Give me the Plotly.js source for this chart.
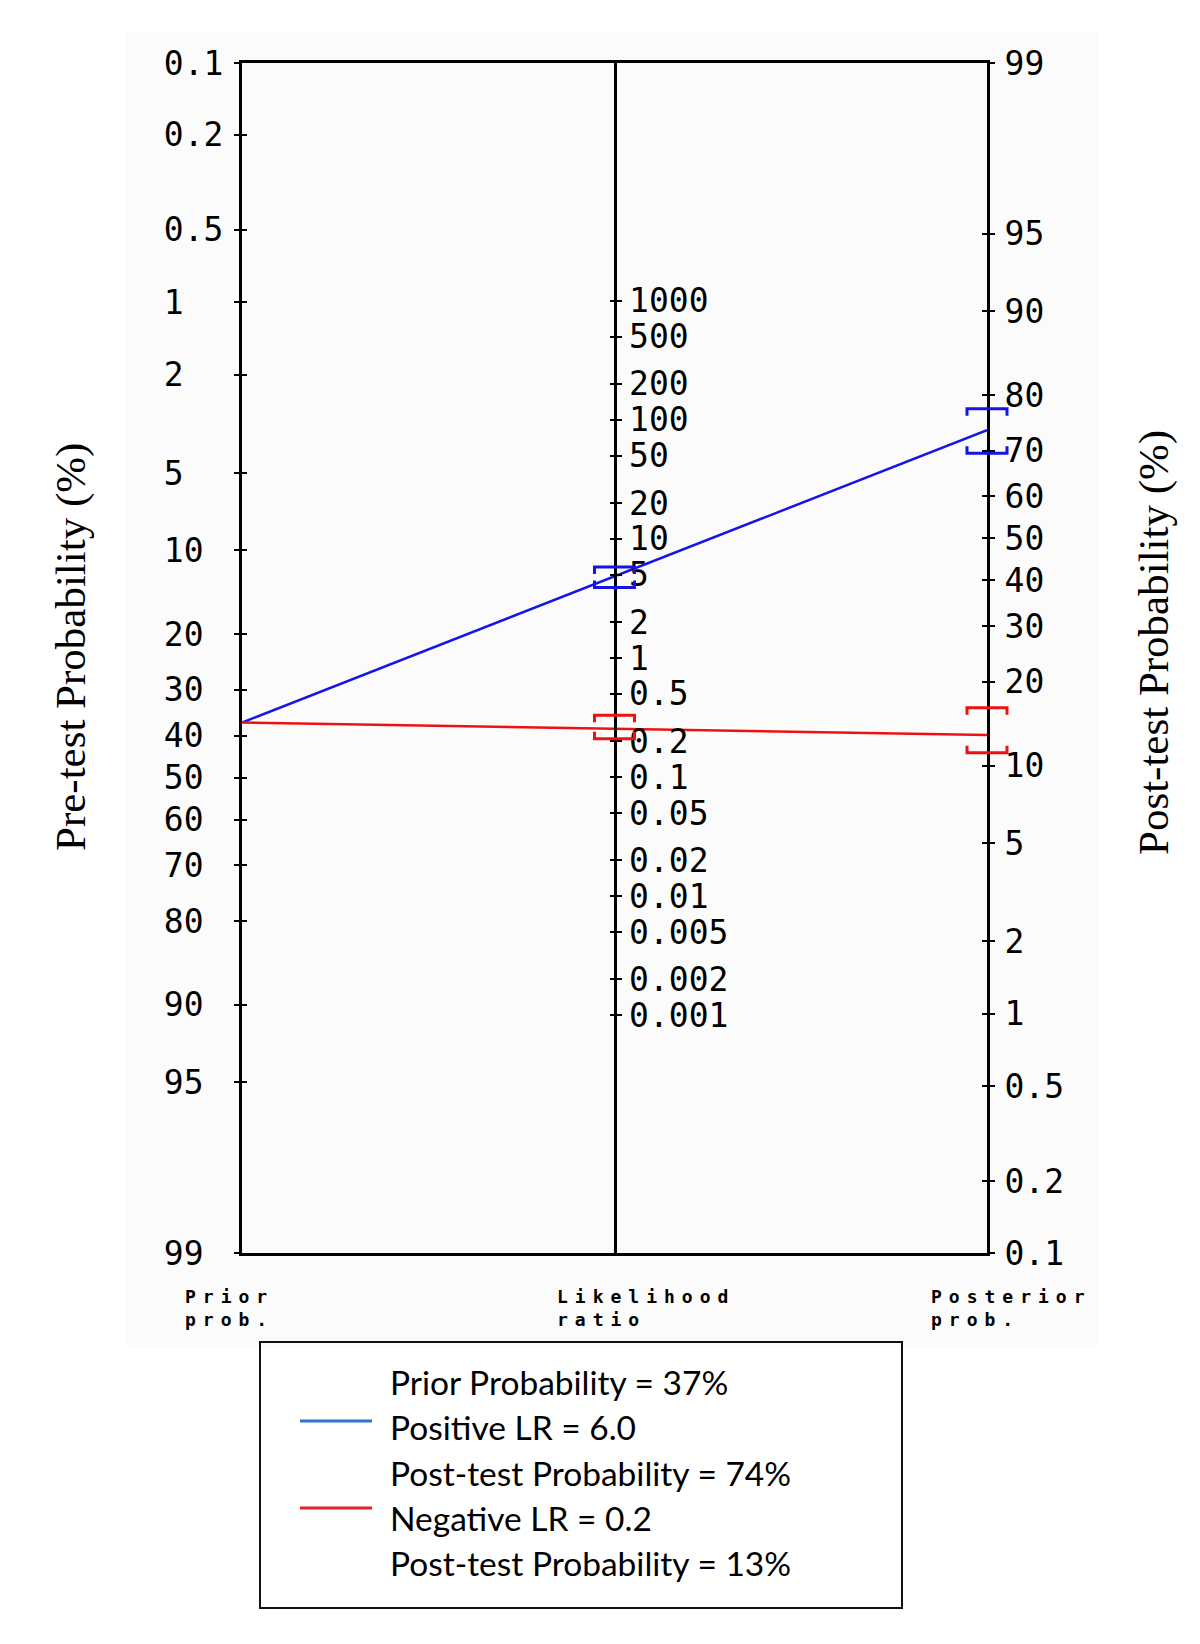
<!DOCTYPE html>
<html>
<head>
<meta charset="utf-8">
<script src="https://cdn.plot.ly/plotly-3.0.1.min.js"></script>
<style>
  body { margin: 0; background: #fff; }
  #myDiv { width: 1200px; height: 1644px; }
</style>
</head>
<body>
<div id="myDiv"></div>
<script>
// tick values of the three scales
var preTicks = [0.1, 0.2, 0.5, 1, 2, 5, 10, 20, 30, 40, 50, 60, 70, 80, 90, 95, 99];
var postTicks = [99, 95, 90, 80, 70, 60, 50, 40, 30, 20, 10, 5, 2, 1, 0.5, 0.2, 0.1];
var lrTicks = [1000, 500, 200, 100, 50, 20, 10, 5, 2, 1, 0.5, 0.2, 0.1, 0.05, 0.02, 0.01, 0.005, 0.002, 0.001];

// results
var priorProb = 37;
var posLR = '6.0';
var negLR = '0.2';
var postPos = 74;
var postNeg = 13;

// confidence brackets
var posLRci = [3.9, 5.8];
var negLRci = [0.21, 0.33];
var postPosCi = [69.5, 77.8];
var postNegCi = [11.2, 16.3];

var blue = '#1414e6';
var red = '#ee1111';

function logit(p) {
  p = p / 100;
  return Math.log(p / (1 - p));
}
var lo = logit(0.1), hi = logit(99);
var lrLim = (hi - lo) / Math.LN10;

// right axis value -> left axis units (both span the same height, flipped)
function rightToLeft(v) { return lo + hi - v; }

function pad3(v) {
  var s = String(v);
  while (s.length < 3) s += '\u00a0';
  return s;
}

// pixel -> paper helpers
var L = 242, R = 987, T = 63, B = 1253;
function px(x) { return (x - L) / (R - L); }
function py(y) { return (B - y) / (B - T); }

var monoFont = { family: 'DejaVu Sans Mono', size: 33, color: '#000' };

var tracePos = {
  x: [0, 1],
  y: [logit(priorProb), rightToLeft(logit(postPos))],
  mode: 'lines',
  line: { color: blue, width: 2.5 },
  hoverinfo: 'skip'
};
var traceNeg = {
  x: [0, 1],
  y: [logit(priorProb), rightToLeft(logit(postNeg))],
  mode: 'lines',
  line: { color: red, width: 2.5 },
  hoverinfo: 'skip'
};
// empty traces so the extra tick axes get drawn
var holders = ['y4', 'y5', 'y6'].map(function (ax) {
  return { x: [0.5], y: [null], yaxis: ax, mode: 'lines', hoverinfo: 'skip' };
});

function bracket(xa, yref, val, top, color) {
  var d = top ? -7 : 7;
  return {
    type: 'path', xref: 'x domain', yref: yref,
    xsizemode: 'pixel', ysizemode: 'pixel',
    xanchor: xa, yanchor: val,
    path: 'M-20,' + d + ' L-20,0 L20,0 L20,' + d,
    line: { color: color, width: 3 }
  };
}

var shapes = [
  { type: 'rect', xref: 'paper', yref: 'paper', layer: 'below',
    x0: px(127), x1: px(1098), y0: py(32), y1: py(1347),
    fillcolor: '#fafbfa', line: { width: 0 } },
  bracket(0.5, 'y3', posLRci[1], true, blue),
  bracket(0.5, 'y3', posLRci[0], false, blue),
  bracket(0.5, 'y3', negLRci[1], true, red),
  bracket(0.5, 'y3', negLRci[0], false, red),
  bracket(1, 'y2', logit(postPosCi[1]), true, blue),
  bracket(1, 'y2', logit(postPosCi[0]), false, blue),
  bracket(1, 'y2', logit(postNegCi[1]), true, red),
  bracket(1, 'y2', logit(postNegCi[0]), false, red),
  // legend box
  { type: 'rect', xref: 'paper', yref: 'paper',
    x0: px(260), x1: px(902), y0: py(1342), y1: py(1608),
    line: { color: '#111', width: 2 } },
  { type: 'line', xref: 'paper', yref: 'paper',
    x0: px(300), x1: px(372), y0: py(1421), y1: py(1421),
    line: { color: '#2a78c2', width: 3 } },
  { type: 'line', xref: 'paper', yref: 'paper',
    x0: px(300), x1: px(372), y0: py(1508), y1: py(1508),
    line: { color: '#e8202a', width: 3 } }
];

var legendLines = [
  'Prior Probability = ' + priorProb + '%',
  'Positive LR = ' + posLR,
  'Post-test Probability = ' + postPos + '%',
  'Negative LR = ' + negLR,
  'Post-test Probability = ' + postNeg + '%'
];
var annotations = legendLines.map(function (t, i) {
  return {
    xref: 'paper', yref: 'paper', x: px(388), y: py(1382 + i * 45.3),
    xanchor: 'left', yanchor: 'middle', showarrow: false, text: t,
    font: { family: 'Lato', size: 33.5, color: '#000' }
  };
});

var smallFont = { family: 'DejaVu Sans Mono', size: 18, color: '#000', weight: 'bold' };
[['Prior', 'prob.', 183], ['Likelihood', 'ratio', 555], ['Posterior', 'prob.', 929]].forEach(function (a) {
  [a[0], a[1]].forEach(function (t, i) {
    annotations.push({
      xref: 'paper', yref: 'paper', x: px(a[2]), y: py(1296 + i * 23.5),
      xanchor: 'left', yanchor: 'middle', showarrow: false,
      text: '<span style="letter-spacing:7px">' + t + '</span>', font: smallFont
    });
  });
});

annotations.push({
  xref: 'paper', yref: 'paper', x: px(71), y: py(647), textangle: -90,
  xanchor: 'center', yanchor: 'middle',
  showarrow: false, text: 'Pre-test Probability (%)',
  font: { family: 'Liberation Serif', size: 43, color: '#000' }
});
annotations.push({
  xref: 'paper', yref: 'paper', x: px(1154), y: py(643), textangle: -90,
  xanchor: 'center', yanchor: 'middle',
  showarrow: false, text: 'Post-test Probability (%)',
  font: { family: 'Liberation Serif', size: 43, color: '#000' }
});

var tickBits = { ticks: 'outside', ticklen: 5, tickwidth: 2, tickcolor: '#000',
  showgrid: false, zeroline: false, fixedrange: true };

var layout = {
  width: 1200, height: 1644,
  margin: { l: L, r: 1200 - R, t: T, b: 1644 - B },
  paper_bgcolor: '#ffffff',
  plot_bgcolor: '#fafbfa',
  showlegend: false,
  xaxis: { range: [0, 1], showline: true, mirror: true, linecolor: '#000', linewidth: 3,
    showticklabels: false, ticks: '', showgrid: false, zeroline: false, fixedrange: true },
  yaxis: Object.assign({}, tickBits, {
    range: [hi, lo], tickmode: 'array',
    tickvals: preTicks.map(logit), ticktext: preTicks.map(pad3),
    showline: true, linecolor: '#000', linewidth: 3,
    tickfont: monoFont, ticklabelstandoff: 4
  }),
  yaxis2: Object.assign({}, tickBits, {
    overlaying: 'y', side: 'right', anchor: 'x',
    range: [lo, hi], tickmode: 'array',
    tickvals: postTicks.map(logit), ticktext: postTicks.map(String),
    showline: true, linecolor: '#000', linewidth: 3,
    tickfont: monoFont, ticklabelstandoff: 3
  }),
  yaxis3: Object.assign({}, tickBits, {
    overlaying: 'y', side: 'right', anchor: 'free', position: 0.5,
    type: 'log', range: [-lrLim, lrLim], tickmode: 'array',
    tickvals: lrTicks, ticktext: lrTicks.map(String),
    showline: true, linecolor: '#000', linewidth: 3,
    tickfont: monoFont, ticklabelstandoff: 1
  }),
  // inner halves of the cross ticks
  yaxis4: Object.assign({}, tickBits, {
    overlaying: 'y', side: 'left', anchor: 'x', range: [hi, lo],
    tickmode: 'array', tickvals: preTicks.map(logit), ticks: 'inside',
    showticklabels: false, showline: false
  }),
  yaxis5: Object.assign({}, tickBits, {
    overlaying: 'y', side: 'right', anchor: 'x', range: [lo, hi],
    tickmode: 'array', tickvals: postTicks.map(logit), ticks: 'inside',
    showticklabels: false, showline: false
  }),
  yaxis6: Object.assign({}, tickBits, {
    overlaying: 'y', side: 'left', anchor: 'free', position: 0.5,
    type: 'log', range: [-lrLim, lrLim],
    tickmode: 'array', tickvals: lrTicks,
    showticklabels: false, showline: false
  }),
  shapes: shapes,
  annotations: annotations
};

Plotly.newPlot('myDiv', [tracePos, traceNeg].concat(holders), layout, { staticPlot: true });
</script>
</body>
</html>
